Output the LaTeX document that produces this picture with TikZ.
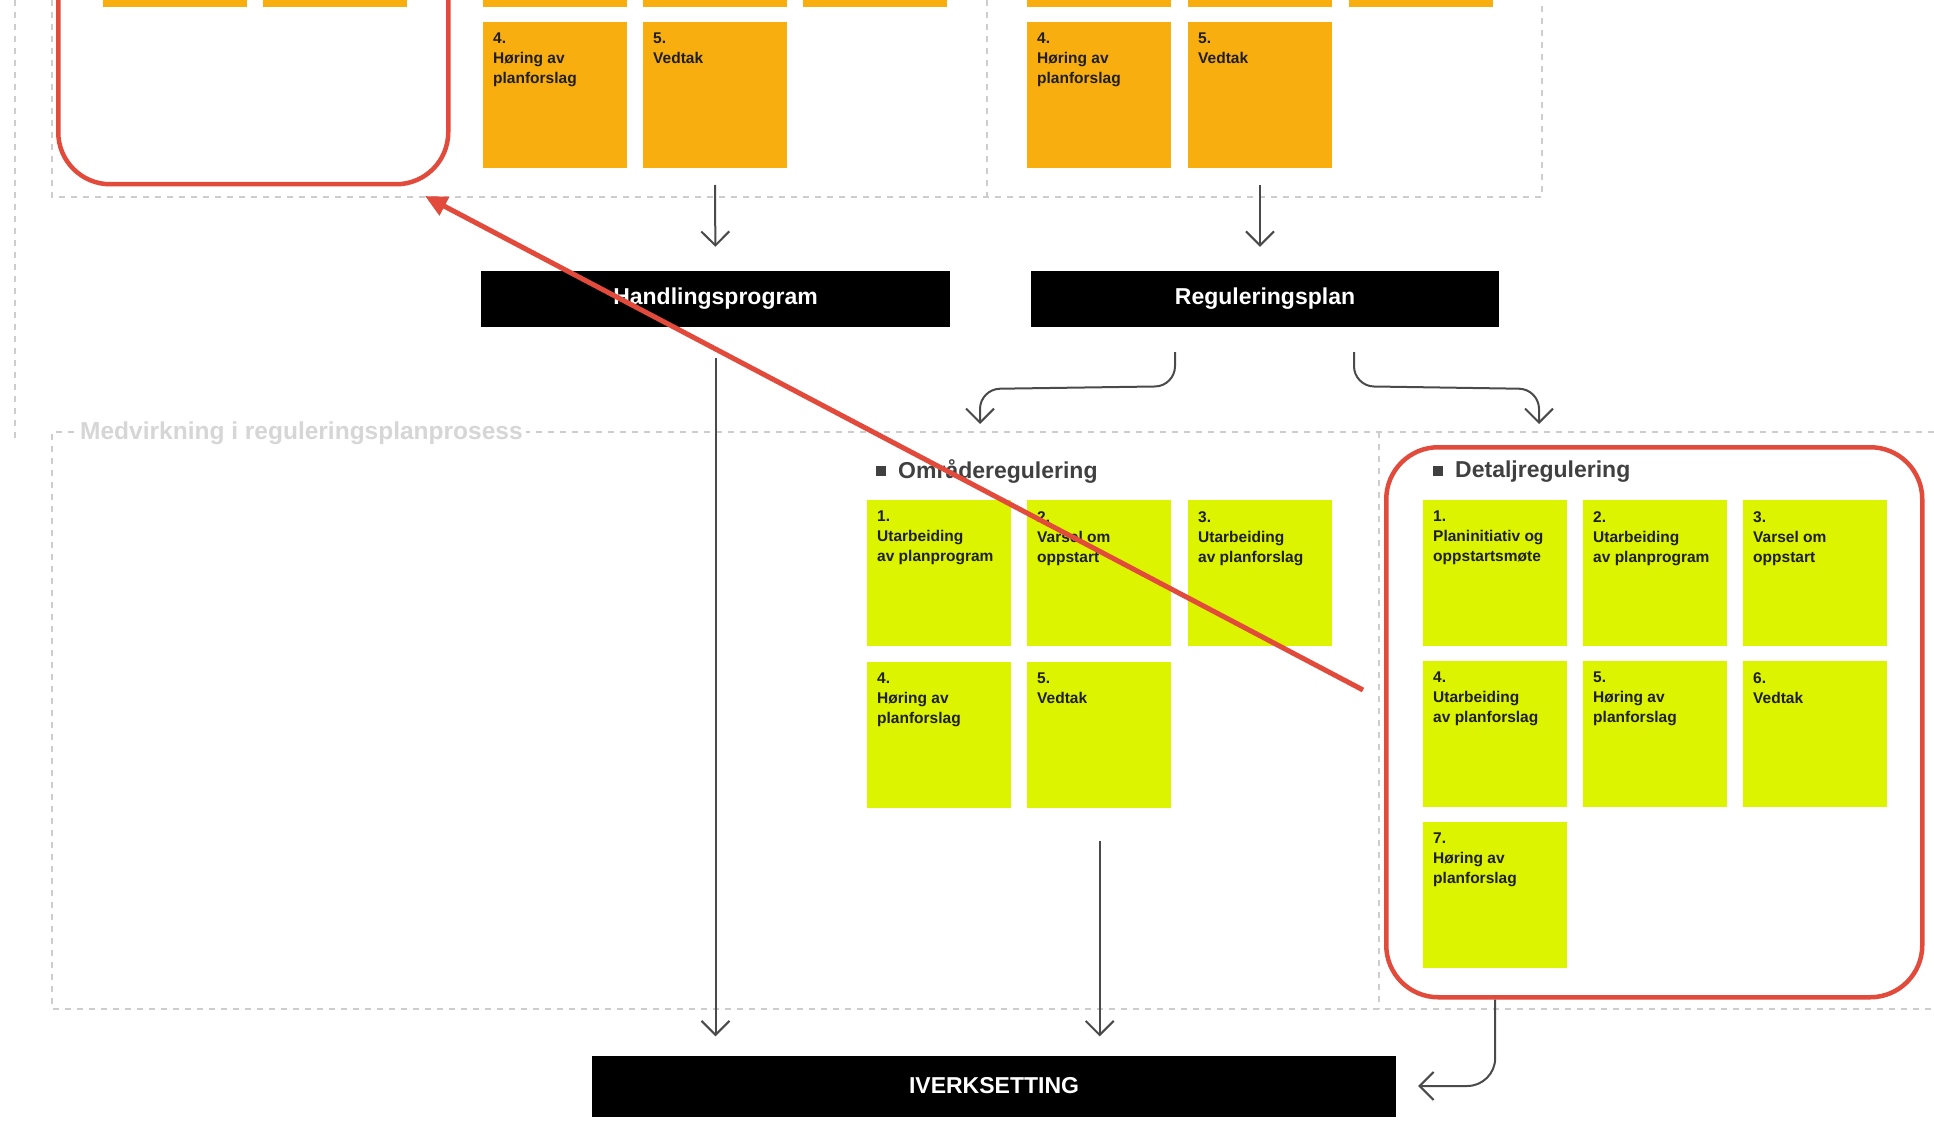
\documentclass[tikz,border=0pt]{standalone}
\usepackage{fontspec}
\setmainfont{Liberation Sans}
\usetikzlibrary{arrows.meta,calc,fit,positioning}
\definecolor{amber}{HTML}{F9AE10}
\definecolor{lime}{HTML}{DCF400}
\definecolor{redline}{HTML}{E24A3B}
\definecolor{dashgray}{HTML}{CDCDCD}
\definecolor{arrowgray}{HTML}{4A4A4A}
\definecolor{ink}{HTML}{1E1E1E}
\definecolor{subgray}{HTML}{D6D6D6}
\newcommand{\mycard}[5]{%
  \node[card=#4] (#1) at (#2,#3) {};
  \node[ctext] (#1t) at ([xshift=10pt,yshift=-11pt]#1.north west) {#5};}
\begin{document}
\begin{tikzpicture}[x=1pt,y=-1pt,
  card/.style={fill=#1, draw=none, minimum width=144pt, minimum height=146pt, anchor=north west, inner sep=0pt},
  ctext/.style={anchor=north west, align=left, inner sep=0pt, text=ink, font=\bfseries\fontsize{15.5}{20}\selectfont},
  bar/.style={fill=black, text=white, font=\bfseries\fontsize{23}{27}\selectfont, inner sep=0pt},
  garrow/.style={draw=arrowgray, line width=2pt, -{Straight Barb[length=14pt,width=28pt,line width=2pt]}},
  dline/.style={draw=dashgray, line width=1.3pt, dash pattern=on 6pt off 6pt},
  redbox/.style={draw=redline, line width=4.5pt, rounded corners=52pt, anchor=north west, inner sep=0pt},
  header/.style={anchor=west, inner sep=0pt, text=ink!85, font=\bfseries\fontsize{23}{27}\selectfont},
]
\useasboundingbox (0,0) rectangle (1934,1123);
\fill[white] (0,0) rectangle (1934,1123);
\clip (0,0) rectangle (1934,1123);

% dashed frames
\draw[dline] (15,0) -- (15,438);
\draw[dline] (52,0) -- (52,197) -- (1542,197) -- (1542,0);
\draw[dline] (987,0) -- (987,197);
\draw[dline] (1934,432) -- (52,432) -- (52,1009) -- (1934,1009);
\draw[dline] (1379,432) -- (1379,1009);

\node[anchor=west, inner sep=3pt, fill=white, text=subgray, font=\bfseries\fontsize{24.5}{28}\selectfont] (sub) at (77,433) {Medvirkning i reguleringsplanprosess};

% top orange cards (partially visible)
\mycard{la1}{103}{-139}{amber}{}
\mycard{la2}{263}{-139}{amber}{}
\mycard{ma1}{483}{-139}{amber}{}
\mycard{ma2}{643}{-139}{amber}{}
\mycard{ma3}{803}{-139}{amber}{}
\mycard{ma4}{483}{22}{amber}{4.\\Høring av\\planforslag}
\mycard{ma5}{643}{22}{amber}{5.\\Vedtak}
\mycard{ra1}{1027}{-139}{amber}{}
\mycard{ra2}{1188}{-139}{amber}{}
\mycard{ra3}{1349}{-139}{amber}{}
\mycard{ra4}{1027}{22}{amber}{4.\\Høring av\\planforslag}
\mycard{ra5}{1188}{22}{amber}{5.\\Vedtak}

% left red box
\node[redbox, minimum width=390pt, minimum height=482pt] (lbox) at (56,-300) {};

% black bars
\node[bar, minimum width=469pt, minimum height=56pt] (hp) at (715.5,299) {Handlingsprogram};
\node[bar, minimum width=468pt, minimum height=56pt] (rp) at (1265,299) {Reguleringsplan};
\node[bar, minimum width=804pt, minimum height=61pt] (iv) at (994,1086) {IVERKSETTING};

% headers
\node[header] (omrh) at (876,471) {\raisebox{2pt}{\rule{10pt}{10pt}}\hspace{12pt}Områderegulering};
\node[header] (deth) at (1433,472) {\raisebox{2pt}{\rule{10pt}{10pt}}\hspace{12pt}Detaljregulering};

% Områderegulering cards
\mycard{o1}{867}{500}{lime}{1.\\Utarbeiding\\av planprogram}
\mycard{o2}{1027}{500}{lime}{2.\\Varsel om\\oppstart}
\mycard{o3}{1188}{500}{lime}{3.\\Utarbeiding\\av planforslag}
\mycard{o4}{867}{662}{lime}{4.\\Høring av\\planforslag}
\mycard{o5}{1027}{662}{lime}{5.\\Vedtak}
\node[fit=(o1)(o3)(o5), inner sep=0pt] (omr) {};

% Detaljregulering cards
\mycard{d1}{1423}{500}{lime}{1.\\Planinitiativ og\\oppstartsmøte}
\mycard{d2}{1583}{500}{lime}{2.\\Utarbeiding\\av planprogram}
\mycard{d3}{1743}{500}{lime}{3.\\Varsel om\\oppstart}
\mycard{d4}{1423}{661}{lime}{4.\\Utarbeiding\\av planforslag}
\mycard{d5}{1583}{661}{lime}{5.\\Høring av\\planforslag}
\mycard{d6}{1743}{661}{lime}{6.\\Vedtak}
\mycard{d7}{1423}{822}{lime}{7.\\Høring av\\planforslag}
\node[redbox, minimum width=536pt, minimum height=550pt] (detbox) at (1384,445) {};

% gray connectors
\coordinate (hpin) at (715,185);
\coordinate (rpin) at (1260,185);
\draw[garrow, shorten >=24pt] (hpin) -- (hp.north);
\draw[garrow, shorten >=24pt] (rpin) -- (rp.north -| rpin);

\coordinate (omrin) at (980,424);
\coordinate (detin) at (1539,424);
\draw[garrow, rounded corners=20pt] ($(rp.south)+(-90,25)$) -- ($(rp.south)+(-90,59)$) -- (980,389) -- (omrin);
\draw[garrow, rounded corners=20pt] ($(rp.south)+(89,25)$) -- ($(rp.south)+(89,59)$) -- (1539,389) -- (detin);

\draw[garrow, shorten <=31pt, shorten >=19pt] (hp.south) -- (hp.south |- iv.north);
\draw[garrow, shorten <=32pt, shorten >=19pt] (omr.south) -- (omr.south |- iv.north);
\draw[garrow, rounded corners=28pt] (d7.south |- detbox.south) -- (d7.south |- iv.east) -- ([xshift=22pt]iv.east);

% red arrow
\coordinate (rstart) at (1363,690);
\coordinate (rtip) at (425,196);
\draw[redline, line width=5pt, -{Triangle[length=22pt,width=20pt]}] (rstart) -- (rtip);
\end{tikzpicture}
\end{document}
